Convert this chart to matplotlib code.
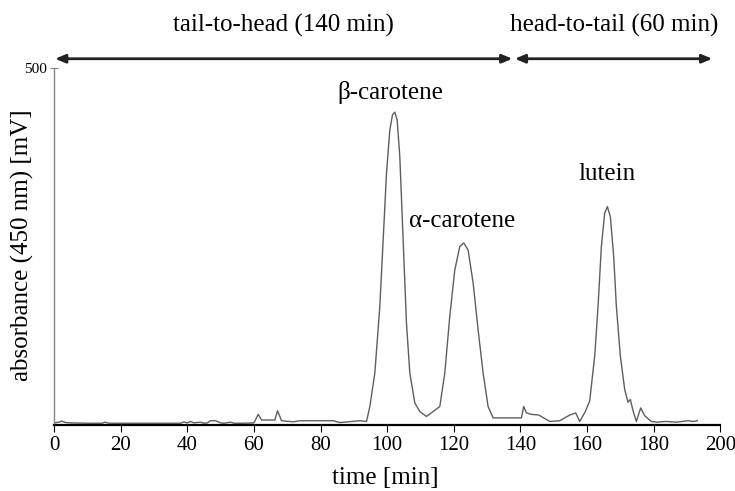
import matplotlib
matplotlib.use('Agg')
import matplotlib.pyplot as plt

plt.rcParams['font.family'] = ['Liberation Serif', 'DejaVu Serif']

# chromatogram trace
time_min = [0, 1.5, 2.3, 3.5, 5, 10, 14.5, 15.3, 16.5, 25, 33, 38, 39, 40, 41, 42, 44, 45,
            46, 47, 48.5, 50, 51, 53, 54, 57, 60, 61.3, 62.3, 66.3, 67.1, 68.3, 71.8, 73.8,
            83.8, 85.8, 91.8, 93.8, 94.8, 96.3, 97.8, 98.8, 99.8, 100.8, 101.6, 102.3, 103,
            103.8, 104.8, 105.8, 106.8, 108.3, 109.8, 111.8, 113.8, 115.8, 117.3, 118.8,
            120.3, 121.8, 123, 124.3, 125.8, 127.3, 128.8, 130.3, 131.8, 135.8, 140.3, 141,
            141.8, 143.3, 145.5, 148.8, 151.8, 154.8, 156.6, 157.8, 159.5, 160.8, 162.3,
            163.3, 164.3, 165.3, 166.1, 167, 168, 168.8, 170, 171.3, 172.3, 173, 173.8,
            174.8, 176.1, 177.3, 179.3, 181, 183.8, 186.8, 190.3, 191.8, 193.1]
absorbance = [1, 2, 3.5, 1.5, 1, 0.5, 0.5, 2, 0.5, 0.5, 0.5, 0.5, 2.5, 1, 3, 1, 2, 0.5,
              1, 4, 4, 1, 0.5, 2, 0.5, 0.5, 1, 13, 5, 5, 18, 4, 2.5, 4,
              4, 1.5, 4, 3, 24, 71, 165, 258, 352, 413, 434, 438, 427,
              375, 258, 141, 71, 29, 17, 10, 17, 24, 71, 151,
              216, 249, 254, 244, 198, 132, 71, 24, 8, 8, 8, 24,
              15, 13, 12, 3, 4, 12, 15, 3, 17, 32, 95,
              165, 249, 296, 305, 291, 235, 165, 95, 48, 30, 34, 18,
              3, 22, 11, 3, 2, 3, 2, 4, 3, 4]

x_ticks = [0, 20, 40, 60, 80, 100, 120, 140, 160, 180, 200]
peak_names = ['β-carotene', 'α-carotene', 'lutein']
peak_label_pos = [(101.0, 466), (122.4, 285), (165.9, 351)]
segments = [(0.3, 137.6, 'tail-to-head (140 min)'), (138.3, 197.6, 'head-to-tail (60 min)')]

fig = plt.figure(figsize=(7.35, 4.91), dpi=100)
ax = fig.add_axes([0.0735, 0.1344, 0.9065, 0.7271])

ax.plot(time_min, absorbance, color='#5e5e5e', lw=1.0)

ax.set_xlim(0, 200)
ax.set_ylim(-2, 500)
ax.set_xticks(x_ticks)
ax.set_yticks([500])
ax.tick_params(axis='x', direction='out', length=5, width=0.8, labelsize=15, pad=3)
ax.tick_params(axis='y', direction='inout', length=6, width=0.8, labelsize=11, pad=2,
               color='#888888')

ax.spines['top'].set_visible(False)
ax.spines['right'].set_visible(False)
ax.spines['left'].set_color('#888888')
ax.spines['left'].set_linewidth(1.0)
ax.spines['bottom'].set_linewidth(1.6)

for name, (px, py) in zip(peak_names, peak_label_pos):
    ax.text(px, py, name, ha='center', va='center', fontsize=18)

# gradient direction arrows above the plot
for x0, x1, label in segments:
    ax.annotate('', xy=(x0, 513), xytext=(x1, 513), xycoords='data',
                annotation_clip=False,
                arrowprops=dict(arrowstyle='<|-|>,head_length=0.6,head_width=0.25',
                                color='#222222', lw=2, shrinkA=0, shrinkB=0))

fig.text(0.385, 0.949, segments[0][2], ha='center', va='center', fontsize=18)
fig.text(0.836, 0.949, segments[1][2], ha='center', va='center', fontsize=18)

fig.text(0.030, 0.50, 'absorbance (450 nm) [mV]', rotation=90, ha='center', va='center',
         fontsize=18)
fig.text(0.524, 0.026, 'time [min]', ha='center', va='center', fontsize=18)

fig.savefig('out.png', dpi=100)
